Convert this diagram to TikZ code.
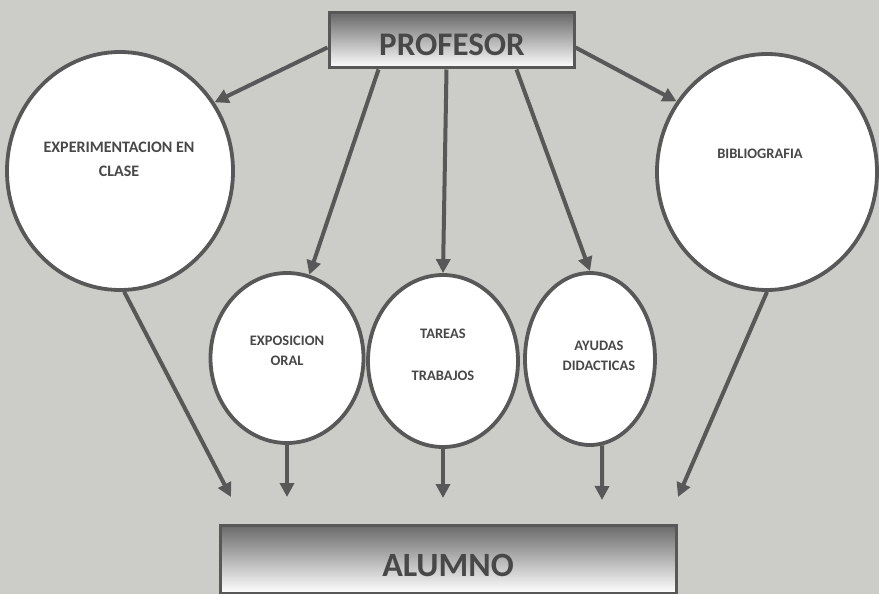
\documentclass[tikz,border=0pt]{standalone}
\usepackage{fontspec}
\setmainfont{Carlito}
\usetikzlibrary{shapes.geometric,arrows.meta,calc}
\definecolor{bg}{RGB}{204,204,201}
\definecolor{ink}{RGB}{88,88,88}
\definecolor{txt}{RGB}{72,72,72}
\definecolor{shadetop}{RGB}{105,105,105}
\begin{document}
\begin{tikzpicture}[x=1pt,y=-1pt,
  bubble/.style={ellipse,draw=ink,line width=3.8pt,fill=white,inner sep=0pt},
  panel/.style={rectangle,draw=ink,line width=3pt,inner sep=0pt,top color=shadetop,bottom color=white},
  lbl/.style={font=\bfseries\fontsize{14.5}{20}\selectfont,text=txt,align=center,inner sep=0pt},
  arr/.style={draw=ink,line width=4pt,-{Triangle[length=14pt,width=14pt]}}]
\fill[bg] (0,0) rectangle (879,594);
\useasboundingbox (0,0) rectangle (879,594);

% boxes
\node[panel,minimum width=245pt,minimum height=55pt] (prof) at (451.5,40.5) {};
\node[lbl,font=\bfseries\fontsize{33}{33}\selectfont] (profT) at (452,45) {PROFESOR};
\node[panel,minimum width=456pt,minimum height=68pt] (alum) at (448,559) {};
\node[lbl,font=\bfseries\fontsize{34}{34}\selectfont] (alumT) at (448,565) {ALUMNO};

% ellipses
\node[bubble,minimum width=226pt,minimum height=238pt] (exp) at (120,171) {};
\node[bubble,minimum width=220pt,minimum height=236pt] (bib) at (767,172) {};
\node[bubble,minimum width=153pt,minimum height=170pt] (expo) at (287,358) {};
\node[bubble,minimum width=150pt,minimum height=172pt] (tar) at (443,361) {};
\node[bubble,minimum width=130pt,minimum height=172pt] (ayu) at (590,359) {};

% labels
\node[lbl,font=\bfseries\fontsize{16}{24}\selectfont] (expT) at (119,159) {EXPERIMENTACION EN\\CLASE};
\node[lbl] (bibT) at (760,154) {BIBLIOGRAFIA};
\node[lbl] (expoT) at (287,351) {EXPOSICION\\ORAL};
\node[lbl,font=\bfseries\fontsize{14.5}{42}\selectfont] (tarT) at (443,355) {TAREAS\\TRABAJOS};
\node[lbl] (ayuT) at (599,356) {AYUDAS\\DIDACTICAS};

% arrows from PROFESOR
\draw[arr] ($(prof.west)+(0,7)$) -- (exp.36);
\draw[arr] ($(prof.east)+(0,7)$) -- (bib.142);
\draw[arr] ($(prof.south)+(-73,0)$) -- (expo.75);
\draw[arr] ($(prof.south)+(-5,0)$) -- (tar.north);
\draw[arr] ($(prof.south)+(65,0)$) -- (ayu.north);

% arrows towards ALUMNO
\coordinate (e1) at (231,497);
\coordinate (e2) at (287,497);
\coordinate (e3) at (443,498);
\coordinate (e4) at (602,500);
\coordinate (e5) at (678,497);
\draw[arr] (exp.-88) -- (e1);
\draw[arr] (expo.south) -- (e2);
\draw[arr] (tar.south) -- (e3);
\draw[arr] (ayu.-82) -- (e4);
\draw[arr] (bib.south) -- (e5);
\end{tikzpicture}
\end{document}
